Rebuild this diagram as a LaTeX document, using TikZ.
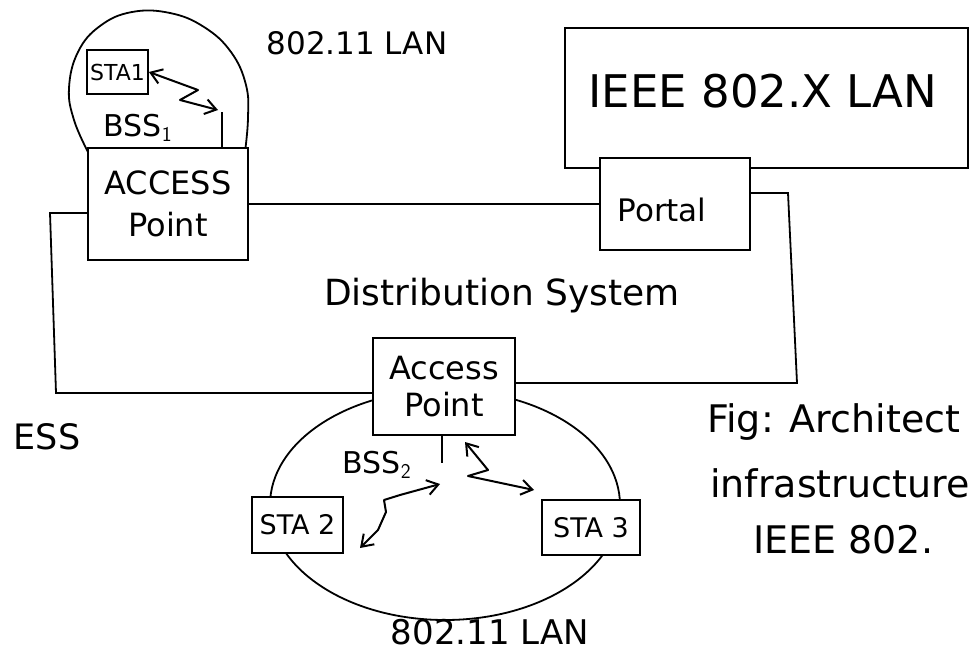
\documentclass[tikz,border=0pt]{standalone}
\usepackage{fontspec}
\setmainfont{DejaVu Sans}
\usetikzlibrary{arrows.meta}
\tikzset{
  ink/.style={line width=1.8pt, black},
  boxnode/.style={draw, ink, fill=white, inner sep=0pt, align=center},
  lbl/.style={inner sep=0pt, align=center},
  wave/.style={ink, line width=2pt, {Straight Barb[length=11pt,width=15pt]}-{Straight Barb[length=11pt,width=15pt]}, line join=round},
  antenna/.style={ink, line width=2.6pt}
}
\newcommand{\fs}[2]{\fontsize{#1}{#2}\selectfont}
\begin{document}
\begin{tikzpicture}[x=1pt,y=-1pt]
\useasboundingbox (0,0) rectangle (976,656);
\fill[white] (0,0) rectangle (976,656);

% --- BSS1 dome (802.11 LAN) ---
\draw[ink] plot[smooth, tension=0.7] coordinates {(88,152) (74,120) (69,88) (78,52) (100,26) (132,12) (170,13) (204,27) (231,52) (246,85) (248,118) (245,152)};

% --- BSS2 ellipse ---
\draw[ink] (445,505) ellipse [x radius=175pt, y radius=115pt];

% --- IEEE 802.X LAN box ---
\node[boxnode, minimum width=403pt, minimum height=140pt, fill=none] (ieee) at (766.5,98) {};
\node[lbl, font=\fs{45}{50}] (ieeetxt) at (763,91) {IEEE 802.X LAN};

% --- Nodes ---
\node[boxnode, minimum width=160pt, minimum height=112pt, font=\fs{32}{42}] (ap1) at (168,204) {ACCESS\\Point};
\node[boxnode, minimum width=150pt, minimum height=92pt] (portal) at (675,204) {};
\node[lbl, font=\fs{31}{36}] (portaltxt) at (662,210) {Portal};
\node[boxnode, minimum width=142pt, minimum height=97pt, font=\fs{32}{37}] (ap2) at (444,386.5) {Access\\Point};
\node[boxnode, minimum width=61pt, minimum height=44pt, font=\fs{22}{26}] (sta1) at (117.5,72) {STA1};
\node[boxnode, minimum width=91pt, minimum height=56pt, font=\fs{27}{30}] (sta2) at (297.5,525) {STA 2};
\node[boxnode, minimum width=98pt, minimum height=55pt, font=\fs{27}{30}] (sta3) at (591,527.5) {STA 3};

% --- Labels ---
\node[lbl, font=\fs{31}{36}] (lan1) at (357,43) {802.11 LAN};
\node[lbl, font=\fs{34}{38}] (lan2) at (490,632) {802.11 LAN};
\node[lbl, font=\fs{30}{34}] (bss1) at (138,128) {BSS$_{\mathsf{1}}$};
\node[lbl, font=\fs{30}{34}] (bss2) at (377,465) {BSS$_{\mathsf{2}}$};
\node[lbl, font=\fs{36}{40}] (ds) at (502,296) {Distribution System};
\node[lbl, font=\fs{35}{40}] (ess) at (47,437) {ESS};
\node[lbl, anchor=west, font=\fs{38}{44}] (cap1) at (707,422) {Fig: Architect};
\node[lbl, anchor=west, font=\fs{38}{44}] (cap2) at (710,483) {infrastructure};
\node[lbl, anchor=west, font=\fs{38}{44}] (cap3) at (753,540) {IEEE 802.};

% --- Distribution system wiring ---
\draw[ink] (ap1.east) -- (portal.west);
\coordinate (dsTL) at (50,213);
\coordinate (dsBL) at (56,393);
\coordinate (dsTR) at (788,193);
\coordinate (dsBR) at (797,383);
\draw[ink] (ap1.west |- dsTL) -- (dsTL) -- (dsBL) -- (ap2.west |- dsBL);
\draw[ink] (portal.east |- dsTR) -- (dsTR) -- (dsBR) -- (ap2.east |- dsBR);

% --- Antennas ---
\coordinate (ant1) at (222,112);
\draw[antenna] (ant1) -- (ant1 |- ap1.north);
\coordinate (ant2) at (442,463);
\draw[antenna] (ant2 |- ap2.south) -- (ant2);

% --- Wireless links ---
\coordinate (w1) at (218,110);
\draw[wave] (sta1.east) -- (198,90) -- (180,100) -- (w1);

\coordinate (w2a) at (360,548);
\coordinate (w2b) at (440,484);
\draw[wave] (w2a) -- (378,530) -- (386,512) -- (384,500) -- (400,495) -- (w2b);

\coordinate (w3a) at (465,442);
\coordinate (w3b) at (534,490);
\draw[wave] (w3a) -- (488,470) -- (468,476) -- (w3b);
\end{tikzpicture}
\end{document}
